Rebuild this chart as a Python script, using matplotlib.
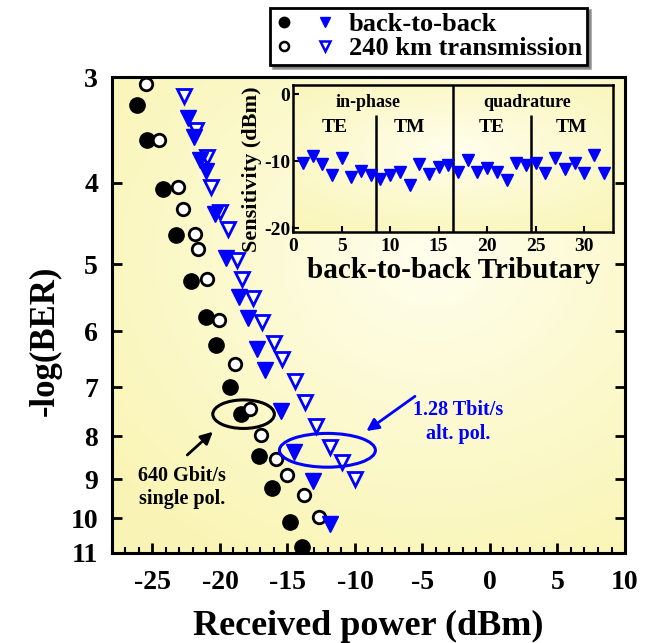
import numpy as np
import matplotlib
matplotlib.use('Agg')
import matplotlib.pyplot as plt
from matplotlib.patches import Ellipse
from matplotlib.lines import Line2D
from matplotlib.legend_handler import HandlerTuple
from matplotlib.ticker import FixedLocator, FixedFormatter, NullLocator, MultipleLocator

plt.rcParams['font.family'] = ['Liberation Serif', 'DejaVu Serif']
plt.rcParams['font.weight'] = 'bold'
plt.rcParams['axes.labelweight'] = 'bold'
plt.rcParams['axes.unicode_minus'] = False

# 640 Gbit/s single polarisation (circles)
b2b_single_power = [-26.15, -25.42, -24.21, -23.29, -22.11, -21.01, -20.27, -19.24,
                    -18.43, -17.11, -16.13, -14.83, -13.95]
b2b_single_logber = [3.24, 3.56, 4.07, 4.62, 5.23, 5.78, 6.24, 7.00,
                     7.52, 8.45, 9.22, 10.12, 10.81]
tx_single_power = [-25.49, -24.54, -23.14, -22.74, -21.82, -21.62, -20.99, -20.10,
                   -18.88, -17.77, -16.96, -15.88, -15.04, -13.81, -12.63]
tx_single_logber = [3.06, 3.56, 4.05, 4.30, 4.61, 4.79, 5.20, 5.82,
                    6.57, 7.43, 7.96, 8.52, 8.89, 9.39, 9.98]

# 1.28 Tbit/s alternating polarisation (triangles)
b2b_alt_power = [-22.39, -21.91, -21.51, -21.01, -20.35, -19.54, -18.57, -17.89,
                 -17.24, -16.64, -15.50, -14.49, -13.09, -11.82]
b2b_alt_logber = [3.35, 3.53, 3.76, 3.88, 4.36, 4.91, 5.47, 5.79,
                  6.30, 6.68, 7.46, 8.36, 9.04, 10.16]
tx_alt_power = [-22.67, -21.79, -20.98, -20.68, -19.98, -19.43, -18.75, -18.35,
                -17.52, -16.88, -15.98, -15.42, -14.46, -13.73, -12.92, -11.84,
                -10.98, -9.98]
tx_alt_logber = [3.16, 3.47, 3.73, 4.05, 4.33, 4.54, 4.94, 5.20,
                 5.49, 5.85, 6.20, 6.48, 6.87, 7.29, 7.78, 8.24,
                 8.57, 8.99]

# inset: back-to-back sensitivity per tributary
tributary = list(range(1, 33))
sensitivity = [-10.2, -9.2, -10.4, -12.0, -9.6, -12.4, -11.5, -12.0,
               -12.6, -12.1, -11.6, -13.6, -10.4, -11.9, -10.8, -10.5,
               -11.6, -9.8, -11.6, -11.0, -11.6, -12.8, -10.2, -10.5,
               -10.2, -11.8, -9.6, -11.2, -10.2, -11.7, -9.1, -11.7]

power_ticks = [-25, -20, -15, -10, -5, 0, 5, 10]
logber_ticks = [3, 4, 5, 6, 7, 8, 9, 10, 11]
inset_xticks = [0, 5, 10, 15, 20, 25, 30]
inset_yticks = [0, -10, -20]
inset_dividers = [8.5, 24.5]

BLUE = '#0000ff'


def add_gradient(fig, rect, center, zorder):
    bg = fig.add_axes(rect, zorder=zorder)
    bg.axis('off')
    yy, xx = np.mgrid[0:1:300j, 0:1:300j]
    r = np.hypot((xx - center[0]) * 1.0, (yy - center[1]) * 1.1)
    r = np.clip(r / 0.8, 0, 1) ** 0.85
    c_in = np.array([1.0, 1.0, 0.94])
    c_out = np.array([0.98, 0.96, 0.71])
    rgb = c_in + (c_out - c_in) * r[..., None]
    bg.imshow(rgb, extent=[0, 1, 0, 1], origin='lower', aspect='auto')
    bg.set_xlim(0, 1)
    bg.set_ylim(0, 1)


def to_axes(ax, x, y):
    return ax.transAxes.inverted().transform(ax.transData.transform((x, y)))


fig = plt.figure(figsize=(6.47, 6.43), dpi=100)

main_rect = [0.173, 0.140, 0.793, 0.740]
add_gradient(fig, main_rect, (0.62, 0.62), zorder=0)
ax = fig.add_axes(main_rect, zorder=1)
ax.set_facecolor('none')

ax.plot(b2b_single_power, b2b_single_logber, 'o', color='black', ms=11, zorder=3)
ax.plot(tx_single_power, tx_single_logber, 'o', mfc='white', mec='black', mew=2,
        ms=9, zorder=4)
ax.plot(tx_alt_power, tx_alt_logber, 'v', mfc='white', mec=BLUE, mew=2,
        ms=10.5, zorder=3)
ax.plot(b2b_alt_power, b2b_alt_logber, 'v', color=BLUE, ms=11, zorder=4)

ax.set_xlim(-28, 10)
ax.set_yscale('log')
ax.set_ylim(11, 3)
ax.yaxis.set_major_locator(FixedLocator(logber_ticks))
ax.yaxis.set_major_formatter(FixedFormatter([str(v) for v in logber_ticks]))
ax.yaxis.set_minor_locator(NullLocator())
ax.xaxis.set_major_locator(FixedLocator(power_ticks))
ax.xaxis.set_minor_locator(MultipleLocator(1))
ax.tick_params(axis='both', which='major', direction='in', labelsize=20,
               width=2, length=7)
ax.tick_params(axis='x', which='minor', direction='in', width=1.5, length=4)
ax.tick_params(axis='y', right=True, which='both')
ax.tick_params(axis='x', pad=12)
ax.tick_params(axis='y', pad=10)
for s in ax.spines.values():
    s.set_linewidth(2.2)
ax.set_xlabel('Received power (dBm)', fontsize=26, va='top')
ax.xaxis.set_label_coords(0.5, -0.12)
ax.set_ylabel('-log(BER)', fontsize=25, va='center')
ax.yaxis.set_label_coords(-0.13, 0.445)

# ellipses marking the highlighted measurements
c = to_axes(ax, -18.25, 7.53)
ax.add_patch(Ellipse(c, 0.12, 0.06, transform=ax.transAxes, fill=False,
                     ec='black', lw=2.2, zorder=5))
c = to_axes(ax, -12.04, 8.31)
ax.add_patch(Ellipse(c, 0.187, 0.071, transform=ax.transAxes, fill=False,
                     ec=BLUE, lw=2.2, zorder=5))

ax.annotate('', xy=(-20.37, 7.86), xytext=(-22.57, 8.46),
            arrowprops=dict(arrowstyle='-|>', color='black', lw=2, mutation_scale=18))
ax.text(-22.8, 9.2, '640 Gbit/s\nsingle pol.', ha='center', va='center',
        fontsize=14.5, linespacing=1.25)
ax.annotate('', xy=(-9.32, 7.92), xytext=(-5.39, 7.14),
            arrowprops=dict(arrowstyle='-|>', color=BLUE, lw=2, mutation_scale=18))
ax.text(-2.35, 7.7, '1.28 Tbit/s\nalt. pol.', ha='center', va='center',
        fontsize=14.5, color=BLUE, linespacing=1.25)

# legend above the axes
h_b2b = (Line2D([], [], ls='none', marker='o', color='black', ms=7.5),
         Line2D([], [], ls='none', marker='v', color=BLUE, ms=7.5))
h_tx = (Line2D([], [], ls='none', marker='o', mfc='white', mec='black', mew=1.8, ms=6.5),
        Line2D([], [], ls='none', marker='v', mfc='white', mec=BLUE, mew=1.8, ms=7))
leg = fig.legend([h_b2b, h_tx], ['back-to-back', '240 km transmission'],
                 handler_map={tuple: HandlerTuple(ndivide=None, pad=0.9)},
                 loc='upper left', bbox_to_anchor=(0.417, 0.988),
                 frameon=True, fancybox=False, shadow=True, edgecolor='black',
                 fontsize=19, handlelength=2.2, handletextpad=0.6,
                 borderpad=0.2, labelspacing=0.0, borderaxespad=0)
leg.get_frame().set_linewidth(2)

# inset
inset_rect = [0.453, 0.639, 0.495, 0.229]
add_gradient(fig, inset_rect, (0.5, 0.55), zorder=2)
ax_in = fig.add_axes(inset_rect, zorder=3)
ax_in.set_facecolor('none')
ax_in.plot(tributary, sensitivity, 'v', color=BLUE, ms=8, zorder=3)
ax_in.axvline(16.5, color='black', lw=1.8)
ax_in.vlines(inset_dividers, -20.6, -3.1, color='black', lw=1.8)
ax_in.set_xlim(0, 33)
ax_in.set_ylim(-20.6, 1.4)
ax_in.set_xticks(inset_xticks)
ax_in.set_yticks(inset_yticks)
ax_in.tick_params(direction='in', labelsize=14, width=1.5, length=4, pad=4)
ax_in.tick_params(axis='y', pad=2)
for s in ax_in.spines.values():
    s.set_linewidth(1.8)
ax_in.set_xlabel('back-to-back Tributary', fontsize=21, va='top')
ax_in.xaxis.set_label_coords(0.5, -0.17)
ax_in.set_ylabel('Sensitivity (dBm)', fontsize=16, va='center')
ax_in.yaxis.set_label_coords(-0.128, 0.43)
ax_in.text(7.7, -1.2, 'in-phase', ha='center', va='center', fontsize=13)
ax_in.text(24.1, -1.2, 'quadrature', ha='center', va='center', fontsize=13)
for x, lab in [(4.3, 'TE'), (12.0, 'TM'), (20.5, 'TE'), (28.7, 'TM')]:
    ax_in.text(x, -4.9, lab, ha='center', va='center', fontsize=14)

plt.savefig('out.png', dpi=100)
print('saved out.png')
